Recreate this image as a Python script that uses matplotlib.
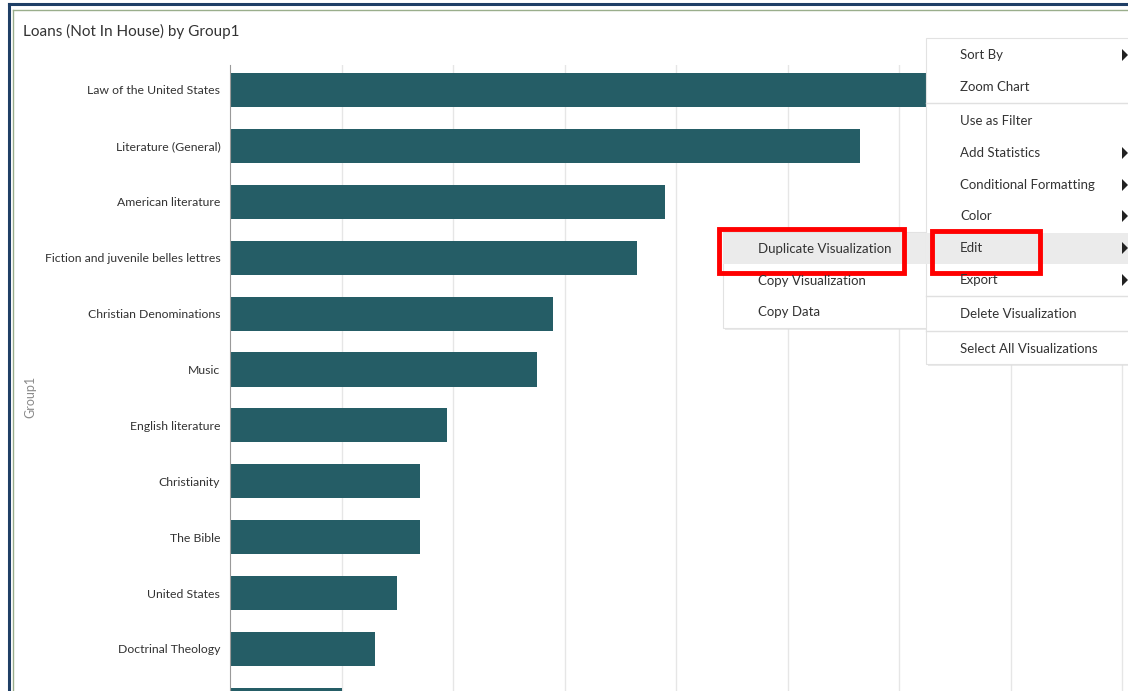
import matplotlib.pyplot as plt
from matplotlib.patches import Rectangle, Polygon

plt.rcParams['font.family'] = ['Lato', 'DejaVu Sans']

# bar data (no tick values visible, read in units of the gridline step = 20)
# last bar is cut off at the bottom of the screenshot, its label is not visible
groups = ["Law of the United States", "Literature (General)", "American literature",
          "Fiction and juvenile belles lettres", "Christian Denominations", "Music",
          "English literature", "Christianity", "The Bible", "United States",
          "Doctrinal Theology", ""]
loans = [136, 113, 78, 73, 58, 55, 39, 34, 34, 30, 26, 20]

menu_items = ["Sort By", "Zoom Chart", "Use as Filter", "Add Statistics",
              "Conditional Formatting", "Color", "Edit", "Export",
              "Delete Visualization", "Select All Visualizations"]
menu_arrow = [True, False, False, True, True, True, True, True, False, False]
sub_items = ["Duplicate Visualization", "Copy Visualization", "Copy Data"]

W, H = 1128, 691
fig = plt.figure(figsize=(W / 100, H / 100), dpi=100)

# chart axes: axis line at x=230, top at y=65
ax = fig.add_axes([230 / W, 0, 1 - 230 / W, 1 - 65 / H])
ypos = list(range(len(groups)))
ax.barh(ypos, loans, height=0.61, color='#255d66', zorder=2)
ax.set_xticks(range(20, 161, 20))
ax.set_xticklabels([])
ax.tick_params(axis='x', length=0)
ax.grid(axis='x', color='#e6e6e6', linewidth=1, zorder=0)
ax.set_yticks(ypos)
ax.set_yticklabels(groups, fontsize=8.8, color='#333333')
ax.tick_params(axis='y', length=0, pad=7)
ax.set_xlim(0, (W - 230) / 111.5 * 20)
ax.set_ylim((H - 90) / 55.9, (65 - 90) / 55.9)
for s in ['top', 'right', 'bottom']:
    ax.spines[s].set_visible(False)
ax.spines['left'].set_color('#9a9a9a')

# overlay in pixel coords for frame, title and menus
ov = fig.add_axes([0, 0, 1, 1], zorder=10)
ov.set_xlim(0, W)
ov.set_ylim(H, 0)
ov.axis('off')
ov.patch.set_alpha(0)

# outer frame
ov.plot([9, W], [4, 4], color='#1f3f66', lw=2.2)
ov.plot([9, 9], [4, H], color='#1f3f66', lw=2.2)
ov.plot([13, W], [9.5, 9.5], color='#9aae8c', lw=1)
ov.plot([13, 13], [9.5, H], color='#9aae8c', lw=1)

ov.text(23, 31, "Loans (Not In House) by Group1", fontsize=11, color='#333333', va='center')
ov.text(30, 397, "Group1", fontsize=9, color='#8a8a8a', rotation=90, va='center', ha='center')

# submenu
ov.add_patch(Rectangle((725, 234), 205, 96, facecolor='#dcdcdc', edgecolor='none', alpha=0.6))
ov.add_patch(Rectangle((723, 232), 205, 96, facecolor='white', edgecolor='#e2e2e2', lw=0.8))
ov.add_patch(Rectangle((723, 233), 205, 31, facecolor='#ebebeb', edgecolor='none'))
for i, t in enumerate(sub_items):
    ov.text(758, 249 + i * 31.5, t, fontsize=9.5, color='#333333', va='center')

# main menu
ov.add_patch(Rectangle((928, 40), 205, 326, facecolor='#dcdcdc', edgecolor='none', alpha=0.6))
ov.add_patch(Rectangle((926, 38), 205, 326, facecolor='white', edgecolor='#e2e2e2', lw=0.8))
ov.add_patch(Rectangle((926, 233), 205, 31, facecolor='#ebebeb', edgecolor='none'))
menu_y = [55, 87, 121, 153, 185, 216, 248, 280, 314, 349]
for t, y, arr in zip(menu_items, menu_y, menu_arrow):
    ov.text(960, y, t, fontsize=9.5, color='#333333', va='center')
    if arr:
        ov.add_patch(Polygon([[1122, y - 6], [1122, y + 6], [1128, y]], closed=True,
                             facecolor='#222222', edgecolor='none'))
for y in [103, 296, 331]:
    ov.plot([926, W], [y, y], color='#e0e0e0', lw=1)

# red highlight boxes
ov.add_patch(Rectangle((719, 229), 185, 44, facecolor='none', edgecolor='#ff0000', lw=3.5))
ov.add_patch(Rectangle((932, 231), 108, 42, facecolor='none', edgecolor='#ff0000', lw=3.5))

fig.savefig('out.png', dpi=100)
